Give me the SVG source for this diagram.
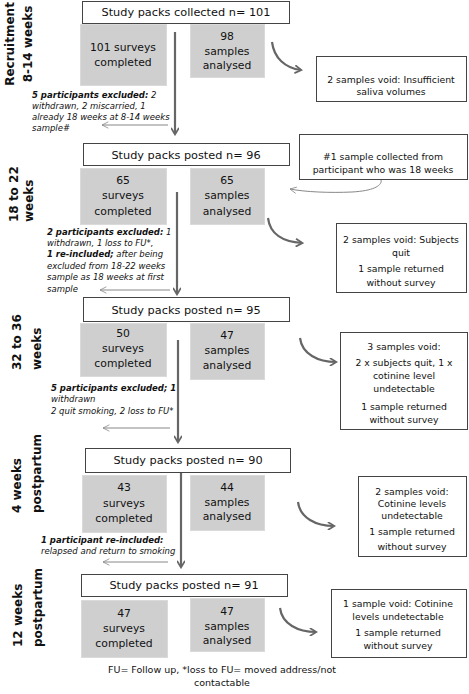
<svg xmlns="http://www.w3.org/2000/svg" width="469" height="694" viewBox="0 0 469 694">
<style>
text{font-family:"DejaVu Sans",Verdana,sans-serif;fill:#111}
.hb{fill:#fff;stroke:#444;stroke-width:1}
.gb{fill:#cfcfcf;stroke:#dadada;stroke-width:1}
.rb{fill:#fff;stroke:#444;stroke-width:1}
.ht{font-size:11.3px;text-anchor:middle}
.gt{font-size:10.8px;text-anchor:middle}
.rt{font-size:9.3px;text-anchor:middle}
.at{font-size:8.5px;font-style:italic}
.ab{font-weight:bold}
.lb{font-size:12px;font-weight:bold}
.ft{font-size:9.5px;text-anchor:middle}
.thick{fill:none;stroke:#666;stroke-width:2.2}
.thin{fill:none;stroke:#888;stroke-width:1}
</style>
<defs>
<marker id="mk" viewBox="0 0 10 10" refX="8" refY="5" markerWidth="4" markerHeight="4" orient="auto" markerUnits="strokeWidth">
<path d="M1,0.5 L8.5,5 L1,9.5" fill="none" stroke="#666" stroke-width="2"/>
</marker>
<marker id="mt" viewBox="0 0 10 10" refX="9" refY="5" markerWidth="8" markerHeight="8" orient="auto" markerUnits="strokeWidth">
<path d="M1,1 L9,5 L1,9" fill="none" stroke="#888" stroke-width="1"/>
</marker>
</defs>

<g id="labels">
<text class="lb" transform="translate(14,44) rotate(-90)" text-anchor="middle">Recruitment</text>
<text class="lb" transform="translate(32,44) rotate(-90)" text-anchor="middle">8-14 weeks</text>
<text class="lb" transform="translate(18,222) rotate(-90)">18 to 22</text>
<text class="lb" transform="translate(33,222) rotate(-90)">weeks</text>
<text class="lb" transform="translate(21,370) rotate(-90)">32 to 36</text>
<text class="lb" transform="translate(41,370) rotate(-90)">weeks</text>
<text class="lb" transform="translate(21,513) rotate(-90)">4 weeks</text>
<text class="lb" transform="translate(41,513) rotate(-90)">postpartum</text>
<text class="lb" transform="translate(22,647) rotate(-90)">12 weeks</text>
<text class="lb" transform="translate(42,647) rotate(-90)">postpartum</text>
</g>

<g id="connectors">
<line class="thick" x1="175" y1="32" x2="175" y2="134" marker-end="url(#mk)"/>
<line class="thick" x1="177" y1="192" x2="177" y2="294" marker-end="url(#mk)"/>
<line class="thick" x1="178" y1="340" x2="178" y2="442" marker-end="url(#mk)"/>
<line class="thick" x1="181" y1="473" x2="181" y2="567" marker-end="url(#mk)"/>
<path class="thin" d="M168,125 H102" marker-end="url(#mt)"/>
<path class="thin" d="M170,290 H100" marker-end="url(#mt)"/>
<path class="thin" d="M170,428 H103" marker-end="url(#mt)"/>
<path class="thin" d="M168,562 H103" marker-end="url(#mt)"/>
<path class="thick" d="M272,42 C274,58 285,68 301,70" marker-end="url(#mk)"/>
<path class="thick" d="M268,218 C270,234 283,242 302,243" marker-end="url(#mk)"/>
<path class="thick" d="M300,338 C302,354 318,362 336,362" marker-end="url(#mk)"/>
<path class="thick" d="M298,502 C300,518 316,526 334,526" marker-end="url(#mk)"/>
<path class="thick" d="M280,608 C282,624 298,632 316,632" marker-end="url(#mk)"/>
<path class="thin" d="M371,172 C386,177 388,190 352,192 C330,193 305,192 290,189" marker-end="url(#mt)"/>
</g>

<g id="s1">
<rect class="hb" x="82.5" y="1.5" width="207" height="22"/>
<text class="ht" x="186" y="16">Study packs collected n= 101</text>
<rect class="gb" x="80.5" y="24.5" width="86" height="61"/>
<text class="gt" x="123" y="51">101 surveys</text>
<text class="gt" x="123" y="66">completed</text>
<rect class="gb" x="190.5" y="24.5" width="74" height="53"/>
<text class="gt" x="227" y="40">98</text>
<text class="gt" x="227" y="55">samples</text>
<text class="gt" x="227" y="69">analysed</text>
<text class="at" x="32" y="98"><tspan class="ab">5 participants excluded:</tspan> 2</text>
<text class="at" x="32" y="109">withdrawn, 2 miscarried, 1</text>
<text class="at" x="32" y="120">already 18 weeks at 8-14 weeks</text>
<text class="at" x="32" y="131">sample#</text>
</g>
<g id="v1">
<rect class="rb" x="316.5" y="56.5" width="150" height="45"/>
<text class="rt" x="391" y="83">2 samples void: Insufficient</text>
<text class="rt" x="391" y="95">saliva volumes</text>
</g>

<g id="s2">
<rect class="hb" x="83.5" y="143.5" width="206" height="22"/>
<text class="ht" x="186" y="159">Study packs posted n= 96</text>
<rect class="gb" x="80.5" y="168.5" width="86" height="56"/>
<text class="gt" x="123" y="184">65</text>
<text class="gt" x="123" y="199">surveys</text>
<text class="gt" x="123" y="215">completed</text>
<rect class="gb" x="190.5" y="168.5" width="74" height="56"/>
<text class="gt" x="227" y="184">65</text>
<text class="gt" x="227" y="199">samples</text>
<text class="gt" x="227" y="215">analysed</text>
<text class="at" x="47" y="235"><tspan class="ab">2 participants excluded:</tspan> 1</text>
<text class="at" x="47" y="246">withdrawn, 1 loss to FU*,</text>
<text class="at" x="47" y="257"><tspan class="ab">1 re-included;</tspan> after being</text>
<text class="at" x="47" y="269">excluded from 18-22 weeks</text>
<text class="at" x="47" y="280">sample as 18 weeks at first</text>
<text class="at" x="47" y="292">sample</text>
</g>
<g id="n1">
<rect class="rb" x="299.5" y="134.5" width="168" height="45"/>
<text class="rt" x="383" y="160">#1 sample collected from</text>
<text class="rt" x="383" y="173">participant who was 18 weeks</text>
</g>
<g id="v2">
<rect class="rb" x="336.5" y="223.5" width="130" height="69"/>
<text class="rt" x="401" y="243">2 samples void: Subjects</text>
<text class="rt" x="401" y="256">quit</text>
<text class="rt" x="401" y="272">1 sample returned</text>
<text class="rt" x="401" y="286">without survey</text>
</g>

<g id="s3">
<rect class="hb" x="83.5" y="297.5" width="206" height="24"/>
<text class="ht" x="186" y="314">Study packs posted n= 95</text>
<rect class="gb" x="80.5" y="323.5" width="86" height="53"/>
<text class="gt" x="123" y="337">50</text>
<text class="gt" x="123" y="352">surveys</text>
<text class="gt" x="123" y="367">completed</text>
<rect class="gb" x="190.5" y="323.5" width="74" height="56"/>
<text class="gt" x="227" y="339">47</text>
<text class="gt" x="227" y="354">samples</text>
<text class="gt" x="227" y="369">analysed</text>
<text class="at ab" x="51" y="391">5 participants excluded; 1</text>
<text class="at" x="51" y="402">withdrawn</text>
<text class="at" x="51" y="414">2 quit smoking, 2 loss to FU*</text>
</g>
<g id="v3">
<rect class="rb" x="340.5" y="332.5" width="127" height="97"/>
<text class="rt" x="404" y="350">3 samples void:</text>
<text class="rt" x="404" y="366">2 x subjects quit, 1 x</text>
<text class="rt" x="404" y="379">cotinine level</text>
<text class="rt" x="404" y="392">undetectable</text>
<text class="rt" x="404" y="410">1 sample returned</text>
<text class="rt" x="404" y="423">without survey</text>
</g>

<g id="s4">
<rect class="hb" x="85.5" y="448.5" width="205" height="24"/>
<text class="ht" x="188" y="464">Study packs posted n= 90</text>
<rect class="gb" x="82.5" y="475.5" width="84" height="57"/>
<text class="gt" x="124" y="491">43</text>
<text class="gt" x="124" y="507">surveys</text>
<text class="gt" x="124" y="522">completed</text>
<rect class="gb" x="190.5" y="475.5" width="74" height="55"/>
<text class="gt" x="227" y="491">44</text>
<text class="gt" x="227" y="506">samples</text>
<text class="gt" x="227" y="520">analysed</text>
<text class="at ab" x="41" y="543">1 participant re-included:</text>
<text class="at" x="41" y="554">relapsed and return to smoking</text>
</g>
<g id="v4">
<rect class="rb" x="358.5" y="476.5" width="108" height="80"/>
<text class="rt" x="412" y="495">2 samples void:</text>
<text class="rt" x="412" y="507">Cotinine levels</text>
<text class="rt" x="412" y="519">undetectable</text>
<text class="rt" x="412" y="535">1 sample returned</text>
<text class="rt" x="412" y="550">without survey</text>
</g>

<g id="s5">
<rect class="hb" x="81.5" y="574.5" width="206" height="22"/>
<text class="ht" x="184" y="589">Study packs posted n= 91</text>
<rect class="gb" x="81.5" y="600.5" width="86" height="57"/>
<text class="gt" x="124" y="617">47</text>
<text class="gt" x="124" y="632">surveys</text>
<text class="gt" x="124" y="647">completed</text>
<rect class="gb" x="190.5" y="598.5" width="74" height="53"/>
<text class="gt" x="227" y="615">47</text>
<text class="gt" x="227" y="630">samples</text>
<text class="gt" x="227" y="644">analysed</text>
</g>
<g id="v5">
<rect class="rb" x="331.5" y="589.5" width="135" height="68"/>
<text class="rt" x="398" y="607">1 sample void: Cotinine</text>
<text class="rt" x="398" y="620">levels undetectable</text>
<text class="rt" x="398" y="636">1 sample returned</text>
<text class="rt" x="398" y="649">without survey</text>
</g>

<g id="footer">
<text class="ft" x="222" y="673">FU= Follow up, *loss to FU= moved address/not</text>
<text class="ft" x="222" y="686">contactable</text>
</g>
</svg>
